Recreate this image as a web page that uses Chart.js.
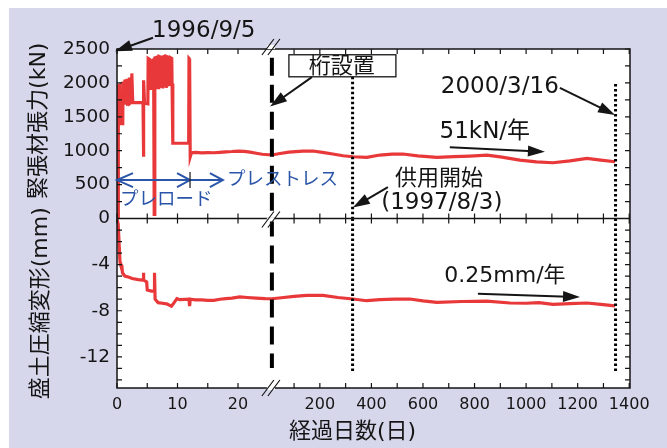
<!DOCTYPE html>
<html>
<head>
<meta charset="utf-8">
<script src="https://cdn.jsdelivr.net/npm/chart.js@4.4.1/dist/chart.umd.min.js"></script>
<style>
  html, body { margin: 0; padding: 0; background: #fff; }
  canvas { display: block; }
</style>
</head>
<body>
<canvas id="chart" width="667" height="448"></canvas>
<script>
// ---- values ----
// early phase (days 0-25, drawn on the left, expanded part of the axis)
var TOP_EARLY_DAY = [0, 0.18, 0.22, 0.45, 0.5, 0.95, 1.0, 1.1, 1.25, 1.3, 1.4, 1.6, 1.65, 1.75, 2.0, 2.05, 2.15, 2.4, 2.45, 2.6,
  4.3, 4.35, 4.45, 4.55, 5.1, 5.15, 5.5, 5.55, 5.95, 6.0, 6.1, 6.15, 6.25, 6.6, 6.65, 6.9, 6.95, 7.2, 7.25, 7.5,
  7.55, 7.8, 7.85, 8.1, 8.15, 8.4, 8.45, 8.8, 8.85, 9.05, 9.1, 9.2, 9.25, 11.85, 11.9, 12.0, 12.1, 12.3, 13, 14,
  15, 16, 17, 18, 19, 20, 21, 22, 23, 24, 25, 25.6];
var TOP_EARLY_KN = [0, 0, 1960, 1970, 1400, 1400, 2020, 1700, 1700, 2050, 1700, 1700, 2060, 1690, 1700, 2080, 1700, 1720, 2140, 1710,
  1710, 910, 2040, 1700, 1690, 2360, 2340, 1920, 1930, 2360, 2350, 60, 2370, 2380, 1930, 1930, 2390, 2380, 1950, 1940,
  2380, 2390, 1960, 1950, 2390, 2380, 1970, 1980, 2370, 2360, 1980, 1990, 1110, 1110, 2360, 2350, 910, 970, 975, 968,
  972, 970, 976, 983, 988, 995, 990, 978, 962, 948, 940, 940];
var BOT_EARLY_DAY = [0, 0.2, 0.35, 0.5, 0.6, 0.8, 0.9, 1.3, 2.0, 2.5, 3.5, 4.3, 4.35, 4.45, 4.9, 5.0, 5.7, 6.15, 6.2, 6.3,
  6.8, 7.5, 8.2, 9.0, 9.3, 9.9, 10.4, 11.9, 12.0, 12.1, 13, 14, 15, 16, 17, 18, 19, 20.3, 21.5, 23, 24.5, 25.6];
var BOT_EARLY_MM = [0, -0.5, -2.2, -3.8, -4.0, -4.1, -4.7, -5.0, -5.1, -5.2, -5.3, -5.35, -4.7, -5.35, -5.5, -6.2, -6.3, -6.3, -4.7, -7.0,
  -7.3, -7.35, -7.4, -7.6, -7.4, -6.95, -7.04, -7.0, -7.6, -7.0, -7.05, -7.05, -7.1, -7.1, -7.0, -6.95, -6.9, -6.8, -6.85, -6.9, -6.95, -6.96];

// long term (drawn on the compressed right part of the axis)
var TOP_LATE_DAY = [14, 40, 80, 134, 173, 210, 250, 290, 328, 382, 433, 480, 522, 580, 654, 720, 782, 848, 900, 976,
  1040, 1104, 1170, 1236, 1290, 1345];
var TOP_LATE_KN = [936, 955, 978, 995, 995, 975, 951, 925, 911, 902, 936, 950, 951, 925, 902, 912, 921, 936, 910, 862,
  835, 822, 850, 887, 862, 837];
var BOT_LATE_DAY = [14, 60, 100, 150, 212, 270, 328, 382, 433, 490, 549, 600, 654, 750, 848, 937, 1000, 1050, 1104, 1170,
  1236, 1290, 1345];
var BOT_LATE_MM = [-6.96, -6.85, -6.75, -6.67, -6.67, -6.85, -6.98, -7.13, -7.04, -7.0, -6.98, -7.15, -7.28, -7.2, -7.16, -7.33, -7.35, -7.3, -7.45, -7.38,
  -7.33, -7.45, -7.57];

// event markers: girder set (at the break), service start 1997/8/3, 2000/3/16
var MARK_SEG = ['L', 'R', 'R'];
var MARK_DAY = [25.6, 327, 1347];
var MARK_TOP_KN = [2370, 2090, 1985];
var MARK_BOT_MM = [-12.96, -13.4, -13.36];

// axis ticks
var X_LEFT_TICKS = [0, 5, 10, 15, 20];
var X_RIGHT_TICKS = [100, 200, 300, 400, 500, 600, 700, 800, 900, 1000, 1100, 1200, 1300, 1400];
var X_LABELLED = [0, 10, 20, 200, 400, 600, 800, 1000, 1200, 1400];
var TOP_TICKS = [0, 250, 500, 750, 1000, 1250, 1500, 1750, 2000, 2250, 2500];
var TOP_LABELLED = [500, 1000, 1500, 2000, 2500];
var BOT_TICKS = [0, -1, -2, -3, -4, -5, -6, -7, -8, -9, -10, -11, -12, -13, -14];
var BOT_LABELLED = [0, -4, -8, -12];

// broken time axis: left part in days, right part compressed
var BREAK_DAY = 25.6;     // end of the left part
var R_START = 14;         // day on the right scale where it starts
var R_PER_DAY = 0.04261;  // right-scale days -> axis units
function uL(d) { return d; }
function uR(d) { return BREAK_DAY + (d - R_START) * R_PER_DAY; }
function toU(seg, d) { return seg === 'L' ? uL(d) : uR(d); }
var X_MAX = uR(1403);

var X_TICKS = [];
X_LEFT_TICKS.forEach(function(d) { X_TICKS.push({ u: uL(d), label: X_LABELLED.indexOf(d) >= 0 ? String(d) : '' }); });
X_RIGHT_TICKS.forEach(function(d) { X_TICKS.push({ u: uR(d), label: X_LABELLED.indexOf(d) >= 0 ? String(d) : '' }); });

var FONT = '"DejaVu Sans", "Noto Sans CJK JP", sans-serif';
var RED = '#e8383a';
var BLUE = '#2a55a8';
var INK = '#151515';
var PANEL_BG = '#d7d7ec';

function pts(days, vals, f) {
  return days.map(function(d, i) { return { x: f(d), y: vals[i] }; });
}

// annotations: positions given in [segment, day, value]
var TEXTS = [
  { t: '1996/9/5', seg: 'L', d: 5.8, v: 2770, ax: 'y', align: 'left', size: 23, color: INK },
  { t: '桁設置', seg: 'R', d: 285, v: 2235, ax: 'y', align: 'center', size: 22, color: INK },
  { t: '2000/3/16', seg: 'R', d: 898, v: 1946, ax: 'y', align: 'center', size: 23, color: INK },
  { t: '51kN/年', seg: 'R', d: 840, v: 1281, ax: 'y', align: 'center', size: 23, color: INK },
  { t: '供用開始', seg: 'R', d: 662, v: 581, ax: 'y', align: 'center', size: 22, color: INK },
  { t: '(1997/8/3)', seg: 'R', d: 673, v: 226, ax: 'y', align: 'center', size: 23, color: INK },
  { t: '0.25mm/年', seg: 'R', d: 918, v: -5.04, ax: 'y2', align: 'center', size: 22, color: INK },
  { t: 'プレストレス', seg: 'L', d: 18.2, v: 567, ax: 'y', align: 'left', size: 18.5, color: BLUE },
  { t: 'プレロード', seg: 'L', d: 0.5, v: 271, ax: 'y', align: 'left', size: 18.5, color: BLUE }
];
var ARROWS = [
  { from: ['L', 5.95, 2666], to: ['L', -0.33, 2467], ax: 'y' },
  { from: ['R', 169, 2085], to: ['L', 25.3, 1651], ax: 'y' },
  { from: ['R', 1131, 1927], to: ['R', 1345, 1528], ax: 'y' },
  { from: ['R', 704, 1050], to: ['R', 1073, 985], ax: 'y' },
  { from: ['R', 464, 463], to: ['R', 328, 162], ax: 'y' },
  { from: ['R', 813, -6.52], to: ['R', 1209, -6.81], ax: 'y2' }
];
var GIRDER_BOX = { seg: 'R', d0: 80, d1: 495, v0: 2090, v1: 2415 };
var PRELOAD = { y: 567, start: 0, mid: 12.07, end: 17.5 };

function arrow(ctx, x0, y0, x1, y1) {
  var head = 17, w = 5.5;
  var ang = Math.atan2(y1 - y0, x1 - x0), c = Math.cos(ang), s = Math.sin(ang);
  ctx.beginPath();
  ctx.moveTo(x0, y0);
  ctx.lineTo(x1 - head * 0.7 * c, y1 - head * 0.7 * s);
  ctx.stroke();
  ctx.beginPath();
  ctx.moveTo(x1, y1);
  ctx.lineTo(x1 - head * c + w * s, y1 - head * s - w * c);
  ctx.lineTo(x1 - head * c - w * s, y1 - head * s + w * c);
  ctx.closePath();
  ctx.fill();
}

var decor = {
  id: 'decor',
  beforeDraw: function(chart) {
    var ctx = chart.ctx, a = chart.chartArea;
    ctx.save();
    ctx.fillStyle = '#fff';
    ctx.fillRect(0, 0, chart.width, chart.height);
    ctx.fillStyle = PANEL_BG;
    ctx.fillRect(9, 8, chart.width - 9, chart.height - 8);
    ctx.fillStyle = '#fff';
    ctx.fillRect(a.left, a.top, a.right - a.left, a.bottom - a.top);
    ctx.restore();
  },
  afterDatasetsDraw: function(chart) {
    var ctx = chart.ctx, a = chart.chartArea;
    var xs = chart.scales.x, yt = chart.scales.y, yb = chart.scales.y2;
    var mid = yt.getPixelForValue(0);
    function P(seg, d, v, ax) { return [xs.getPixelForValue(toU(seg, d)), chart.scales[ax].getPixelForValue(v)]; }
    ctx.save();

    // frame + inward ticks
    ctx.strokeStyle = INK;
    ctx.lineWidth = 1.5;
    ctx.strokeRect(a.left, a.top, a.right - a.left, a.bottom - a.top);
    ctx.beginPath();
    ctx.moveTo(a.left, mid); ctx.lineTo(a.right, mid);
    ctx.stroke();
    ctx.lineWidth = 1.2;
    ctx.beginPath();
    xs.ticks.forEach(function(t) {
      var px = xs.getPixelForValue(t.value);
      ctx.moveTo(px, a.top); ctx.lineTo(px, a.top + 5);
      ctx.moveTo(px, mid - 5); ctx.lineTo(px, mid + 5);
      ctx.moveTo(px, a.bottom); ctx.lineTo(px, a.bottom - 5);
    });
    [yt, yb].forEach(function(s) {
      s.ticks.forEach(function(t) {
        var py = s.getPixelForValue(t.value);
        ctx.moveTo(a.left, py); ctx.lineTo(a.left + 5, py);
        ctx.moveTo(a.right, py); ctx.lineTo(a.right - 5, py);
      });
    });
    ctx.stroke();

    // axis break marks
    var bx = xs.getPixelForValue(uL(BREAK_DAY)) - 1;
    [a.top - 2, mid + 1, a.bottom].forEach(function(cy) {
      ctx.fillStyle = '#fff';
      ctx.fillRect(bx - 4, cy - 2, 8, 4);
      ctx.strokeStyle = INK;
      ctx.lineWidth = 1.2;
      ctx.beginPath();
      [-3, 3].forEach(function(o) {
        ctx.moveTo(bx + o - 6, cy + 8);
        ctx.lineTo(bx + o + 6, cy - 8);
      });
      ctx.stroke();
    });

    // girder box
    var b0 = P(GIRDER_BOX.seg, GIRDER_BOX.d0, GIRDER_BOX.v1, 'y');
    var b1 = P(GIRDER_BOX.seg, GIRDER_BOX.d1, GIRDER_BOX.v0, 'y');
    ctx.fillStyle = '#fff';
    ctx.fillRect(b0[0], b0[1], b1[0] - b0[0], b1[1] - b0[1]);
    ctx.lineWidth = 1.3;
    ctx.strokeStyle = INK;
    ctx.strokeRect(b0[0], b0[1], b1[0] - b0[0], b1[1] - b0[1]);

    // black arrows
    ctx.strokeStyle = INK;
    ctx.fillStyle = INK;
    ctx.lineWidth = 2;
    ARROWS.forEach(function(ar) {
      var p0 = P(ar.from[0], ar.from[1], ar.from[2], ar.ax);
      var p1 = P(ar.to[0], ar.to[1], ar.to[2], ar.ax);
      arrow(ctx, p0[0], p0[1], p1[0], p1[1]);
    });

    // preload / prestress arrows (blue, open heads)
    var py = yt.getPixelForValue(PRELOAD.y);
    var x0 = xs.getPixelForValue(uL(PRELOAD.start));
    var x1 = xs.getPixelForValue(uL(PRELOAD.mid));
    var x2 = xs.getPixelForValue(uL(PRELOAD.end));
    ctx.strokeStyle = BLUE;
    ctx.lineWidth = 2;
    ctx.beginPath();
    ctx.moveTo(x0, py); ctx.lineTo(x2, py);
    ctx.moveTo(x0 + 16, py - 7); ctx.lineTo(x0, py); ctx.lineTo(x0 + 16, py + 7);
    ctx.moveTo(x1 - 13, py - 7); ctx.lineTo(x1, py); ctx.lineTo(x1 - 13, py + 7);
    ctx.moveTo(x2 - 13, py - 7); ctx.lineTo(x2, py); ctx.lineTo(x2 - 13, py + 7);
    ctx.stroke();
    ctx.strokeStyle = INK;
    ctx.lineWidth = 1.2;
    ctx.beginPath();
    ctx.moveTo(x1, py - 8); ctx.lineTo(x1, py + 8);
    ctx.stroke();

    // texts
    ctx.textBaseline = 'middle';
    TEXTS.forEach(function(t) {
      var p = P(t.seg, t.d, t.v, t.ax);
      ctx.font = t.size + 'px ' + FONT;
      ctx.fillStyle = t.color;
      ctx.textAlign = t.align;
      ctx.fillText(t.t, p[0], p[1]);
    });

    // axis titles
    ctx.fillStyle = INK;
    ctx.font = '22px ' + FONT;
    ctx.textAlign = 'center';
    ctx.save();
    ctx.translate(a.left - 78, (yt.top + yt.bottom) / 2 - 13);
    ctx.rotate(-Math.PI / 2);
    ctx.fillText('緊張材張力(kN)', 0, 0);
    ctx.restore();
    ctx.save();
    ctx.translate(a.left - 76, (yb.top + yb.bottom) / 2);
    ctx.rotate(-Math.PI / 2);
    ctx.fillText('盛土圧縮変形(mm)', 0, 0);
    ctx.restore();
    ctx.fillText('経過日数(日)', (a.left + a.right) / 2 - 21, a.bottom + 44);

    ctx.restore();
  }
};

function lineSet(data, ax) {
  return { data: data, yAxisID: ax, borderColor: RED, borderWidth: 3.2, pointRadius: 0, tension: 0, order: 2 };
}
function markSet(i, ax, v0, v1) {
  var u = toU(MARK_SEG[i], MARK_DAY[i]);
  var dashed = i === 0;
  return {
    data: [{ x: u, y: v0 }, { x: u, y: v1 }], yAxisID: ax,
    borderColor: '#000', borderWidth: dashed ? 4 : 3, borderDash: dashed ? [18, 9] : [2.5, 2.5],
    pointRadius: 0, order: 1
  };
}

var datasets = [
  lineSet(pts(TOP_EARLY_DAY, TOP_EARLY_KN, uL), 'y'),
  lineSet(pts(TOP_LATE_DAY, TOP_LATE_KN, uR), 'y'),
  lineSet(pts(BOT_EARLY_DAY, BOT_EARLY_MM, uL), 'y2'),
  lineSet(pts(BOT_LATE_DAY, BOT_LATE_MM, uR), 'y2')
];
for (var i = 0; i < MARK_DAY.length; i++) {
  datasets.push(markSet(i, 'y', MARK_TOP_KN[i], 0));
  datasets.push(markSet(i, 'y2', 0, MARK_BOT_MM[i]));
}

Chart.defaults.font.family = FONT;
Chart.defaults.color = INK;

new Chart(document.getElementById('chart'), {
  type: 'line',
  data: { datasets: datasets },
  options: {
    responsive: false,
    animation: false,
    devicePixelRatio: 1,
    layout: { padding: { top: 49, right: 37, bottom: 0, left: 0 } },
    plugins: { legend: { display: false }, tooltip: { enabled: false } },
    scales: {
      x: {
        type: 'linear', min: 0, max: X_MAX,
        afterBuildTicks: function(s) { s.ticks = X_TICKS.map(function(t) { return { value: t.u }; }); },
        afterFit: function(s) { s.height = 60; },
        grid: { display: false, drawTicks: false }, border: { display: false },
        ticks: {
          autoSkip: false, maxRotation: 0, minRotation: 0, padding: 7,
          font: { size: 16 },
          callback: function(v, i) { return X_TICKS[i] ? X_TICKS[i].label : ''; }
        }
      },
      // bottom panel first: Chart.js stacks later left axes on top
      y2: {
        type: 'linear', position: 'left', stack: 'panels', stackWeight: 1,
        min: -14.7, max: 0,
        afterBuildTicks: function(s) { s.ticks = BOT_TICKS.map(function(v) { return { value: v }; }); },
        afterFit: function(s) { s.width = 117; },
        grid: { display: false, drawTicks: false }, border: { display: false },
        ticks: {
          autoSkip: false, padding: 7, font: { size: 18.5 },
          callback: function(v) { return BOT_LABELLED.indexOf(v) >= 0 ? String(v) : ''; }
        }
      },
      y: {
        type: 'linear', position: 'left', stack: 'panels', stackWeight: 1,
        min: 0, max: 2500,
        afterBuildTicks: function(s) { s.ticks = TOP_TICKS.map(function(v) { return { value: v }; }); },
        afterFit: function(s) { s.width = 117; },
        grid: { display: false, drawTicks: false }, border: { display: false },
        ticks: {
          autoSkip: false, padding: 7, font: { size: 18.5 },
          callback: function(v) { return TOP_LABELLED.indexOf(v) >= 0 ? String(v) : ''; }
        }
      }
    }
  },
  plugins: [decor]
});
</script>
</body>
</html>
